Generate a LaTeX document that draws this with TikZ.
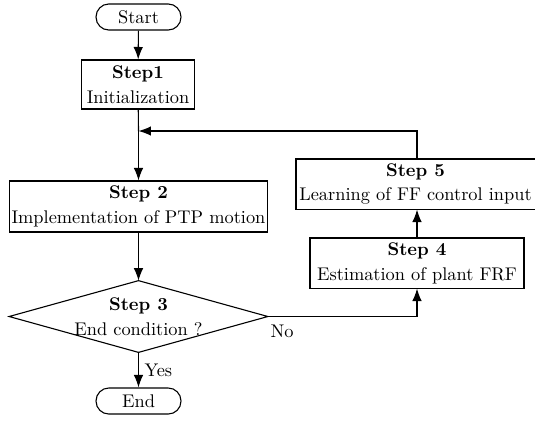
\documentclass[tikz,border=0pt]{standalone}
\usetikzlibrary{arrows.meta}
\begin{document}
\begin{tikzpicture}[x=0.545pt,y=-0.545pt,
  every node/.style={inner sep=0pt,align=center},
  box/.style={draw,line width=0.6pt},
  term/.style={draw,line width=0.6pt,rounded corners=7pt,minimum width=46.3pt,minimum height=14.2pt},
  conn/.style={line width=0.6pt,-{Latex[length=6.8pt,width=5.2pt]}},
  plain/.style={line width=0.6pt}]
\useasboundingbox (0,0) rectangle (535,424);
\node[term] (start) at (138.5,17) {Start};
\node[box,minimum width=62pt,minimum height=26.7pt] (s1) at (138,84.5) {\textbf{Step1}\\[1.5pt]Initialization};
\node[box,minimum width=141pt,minimum height=27.8pt] (s2) at (138.5,206.5) {\textbf{Step 2}\\[1.5pt]Implementation of PTP motion};
\node[minimum width=140.6pt,minimum height=38.7pt] (s3) at (138.5,316.5) {\textbf{Step 3}\\[1.5pt]End condition ?};
\draw[plain] (s3.north) -- (s3.east) -- (s3.south) -- (s3.west) -- cycle;
\node[term] (end) at (138.5,401) {End};
\node[box,minimum width=130.3pt,minimum height=27.3pt] (s5) at (415.5,184) {\textbf{Step 5}\\[1.5pt]Learning of FF control input};
\node[box,minimum width=116.6pt,minimum height=27.3pt] (s4) at (417,263) {\textbf{Step 4}\\[1.5pt]Estimation of plant FRF};
\coordinate (merge) at (138.5,131);
\coordinate (top5) at (417,131);
\draw[conn] (start) -- (s1);
\draw[plain] (s1) -- (merge);
\draw[conn] (merge) -- (s2);
\draw[conn] (s2) -- (s3.north);
\draw[conn] (s3.south) -- node[right=3pt] {Yes} (end);
\draw[conn] (s3.east) -| (s4.south -| top5);
\draw[conn] (s4.north -| top5) -- (s5.south -| top5);
\draw[conn] (s5.north -| top5) -- (top5) -- (merge);
\node (nolab) at (282,331) {No};
\end{tikzpicture}
\end{document}
